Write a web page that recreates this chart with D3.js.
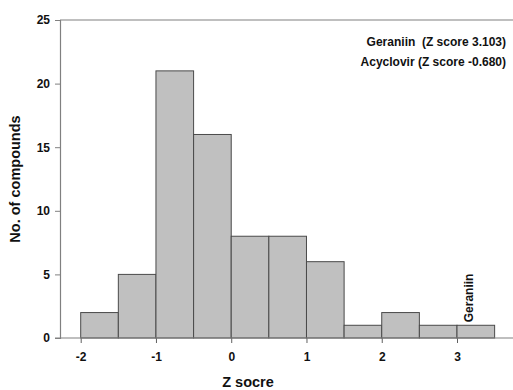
<!DOCTYPE html>
<html><head><meta charset="utf-8">
<script src="https://cdn.jsdelivr.net/npm/d3@7"></script>
<style>
body{margin:0;background:#fff;}
text{font-family:"Liberation Sans",Arial,sans-serif;font-weight:bold;fill:#111;}
</style></head>
<body><svg id="c" width="513" height="390"></svg>
<script>
const binStarts = [-2, -1.5, -1, -0.5, 0, 0.5, 1, 1.5, 2, 2.5, 3];
const binWidth = 0.5;
const counts = [2, 5, 21, 16, 8, 8, 6, 1, 2, 1, 1];
const xTicks = [-2, -1, 0, 1, 2, 3];
const yTicks = [0, 5, 10, 15, 20, 25];
const notes = ["Geraniin  (Z score 3.103)", "Acyclovir (Z score -0.680)"];
const marker = {z: 3, count: 1, label: "Geraniin"};
const xTitle = "Z socre", yTitle = "No. of compounds";

const svg = d3.select("#c");
const x = d3.scaleLinear().domain([-2, 3]).range([80.7, 457]);
const y = d3.scaleLinear().domain([0, 25]).range([338, 20]);
const left = 60, right = 513;

// bars
svg.append("g").selectAll("rect").data(binStarts).join("rect")
  .attr("x", d => x(d)).attr("width", d => x(d + binWidth) - x(d))
  .attr("y", (d,i) => y(counts[i])).attr("height", (d,i) => y(0) - y(counts[i]))
  .attr("fill", "#c0c0c0").attr("stroke", "#4a4a4a").attr("stroke-width", 1);

// top frame line
svg.append("line").attr("x1", left).attr("x2", right).attr("y1", y(25)).attr("y2", y(25))
  .attr("stroke", "#808080").attr("stroke-width", 1.2);

// y axis
const ya = svg.append("g").attr("transform", `translate(${left},0)`)
  .call(d3.axisLeft(y).tickValues(yTicks).tickSize(5).tickPadding(5).tickFormat(d => String(d)));
ya.select(".domain").attr("stroke", "#808080").attr("stroke-width", 1.2);
ya.selectAll(".tick line").attr("stroke", "#808080");
ya.selectAll("text").style("font-size", "12px").style("font-weight", "bold");

// x axis
const xa = svg.append("g").attr("transform", `translate(0,${y(0)})`)
  .call(d3.axisBottom(x).tickValues(xTicks).tickSize(5).tickPadding(9.5).tickFormat(d => String(d)));
xa.select(".domain").remove();
xa.selectAll(".tick line").attr("stroke", "#606060");
xa.selectAll("text").style("font-size", "12px").style("font-weight", "bold");
svg.append("line").attr("x1", left - 5).attr("x2", right).attr("y1", y(0)).attr("y2", y(0))
  .attr("stroke", "#808080").attr("stroke-width", 1.2);

// titles
svg.append("text").attr("x", 248).attr("y", 386.5).attr("text-anchor", "middle")
  .style("font-size", "14.5px").text(xTitle);
svg.append("text").attr("transform", `translate(20,${y(12.5)}) rotate(-90)`)
  .attr("text-anchor", "middle").style("font-size", "14.5px").text(yTitle);

// notes
svg.append("g").selectAll("text").data(notes).join("text")
  .attr("x", 506).attr("y", (d,i) => 46 + i*20).attr("text-anchor", "end")
  .style("white-space", "pre")
  .style("font-size", "12px").text(d => d);

// marker label
svg.append("text").attr("transform", `translate(${x(marker.z) + 16},${y(marker.count) - 3}) rotate(-90)`)
  .attr("text-anchor", "start").style("font-size", "12px").text(marker.label);
</script></body></html>
